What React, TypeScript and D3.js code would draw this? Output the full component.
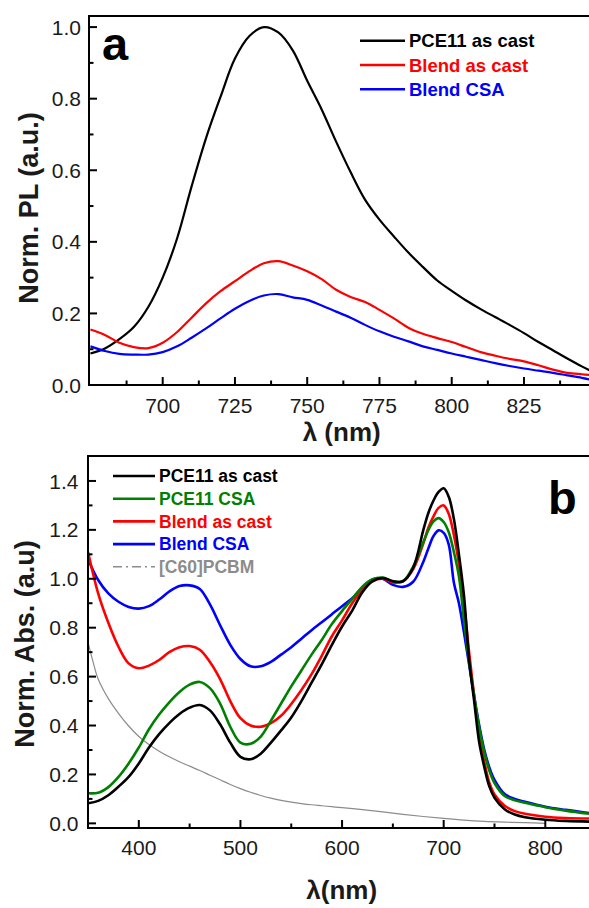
import React, { useMemo } from "react";
import * as d3 from "d3";

const WIDTH = 589;
const HEIGHT = 908;
const FONT = "'Liberation Sans', Arial, sans-serif";

// ---- panel a : normalised PL ----
const plWavelength = [
  675, 680, 685, 690, 695, 700, 705, 710, 715, 720, 725, 730, 735, 740, 745, 750, 755, 760,
  765, 770, 775, 780, 785, 790, 795, 800, 805, 810, 815, 820, 825, 830, 835, 840, 845, 848,
];
const plPce11AsCast = [
  0.088, 0.102, 0.128, 0.162, 0.218, 0.3, 0.41, 0.555, 0.69, 0.805, 0.912, 0.975, 1.0, 0.985,
  0.935, 0.85, 0.77, 0.68, 0.595, 0.518, 0.462, 0.415, 0.37, 0.33, 0.292, 0.263, 0.236, 0.212,
  0.19, 0.168, 0.145, 0.12, 0.097, 0.074, 0.052, 0.04,
];
const plBlendAsCast = [
  0.155, 0.14, 0.118, 0.106, 0.103, 0.118, 0.148, 0.188, 0.228, 0.262, 0.29, 0.318, 0.34,
  0.346, 0.334, 0.318, 0.296, 0.266, 0.246, 0.232, 0.21, 0.186, 0.16, 0.143, 0.131, 0.12,
  0.106, 0.092, 0.082, 0.073, 0.066, 0.055, 0.043, 0.034, 0.03, 0.028,
];
const plBlendCsa = [
  0.108, 0.095, 0.087, 0.085, 0.085, 0.092, 0.108, 0.132, 0.158, 0.186, 0.213, 0.235, 0.25,
  0.254, 0.245, 0.238, 0.222, 0.205, 0.188, 0.168, 0.15, 0.135, 0.122, 0.108, 0.098, 0.088,
  0.079, 0.07, 0.061, 0.053, 0.046, 0.04, 0.034, 0.027, 0.02, 0.015,
];
const plXTicks = [700, 725, 750, 775, 800, 825];
const plXMinor = [687.5, 712.5, 737.5, 762.5, 787.5, 812.5, 837.5];
const plYTicks = [0, 0.2, 0.4, 0.6, 0.8, 1.0];
const plYMinor = [0.1, 0.3, 0.5, 0.7, 0.9];

// ---- panel b : normalised absorption ----
const absWavelength = [
  350, 360, 370, 380, 390, 400, 410, 420, 430, 440, 450, 460, 470, 480, 490, 500, 510, 520,
  530, 540, 550, 560, 570, 580, 590, 600, 610, 620, 630, 640, 650, 660, 670, 680, 685, 690,
  695, 700, 705, 710, 715, 720, 725, 730, 735, 740, 745, 750, 760, 770, 780, 800, 820, 843,
];
const absPce11AsCast = [
  0.082, 0.092, 0.115, 0.15, 0.19, 0.245, 0.31, 0.365, 0.41, 0.447, 0.473, 0.484, 0.462,
  0.405, 0.33, 0.272, 0.262, 0.285, 0.33, 0.38, 0.433, 0.5, 0.575, 0.65, 0.73, 0.805, 0.87,
  0.945, 0.99, 1.003, 0.99, 0.99, 1.045, 1.2, 1.27, 1.32, 1.355, 1.37, 1.335, 1.245, 1.1,
  0.93, 0.67, 0.5, 0.33, 0.23, 0.15, 0.105, 0.058, 0.036, 0.025, 0.015, 0.01, 0.007,
];
const absPce11Csa = [
  0.123, 0.125, 0.148, 0.19, 0.245, 0.31, 0.385, 0.445, 0.495, 0.537, 0.567, 0.578, 0.553,
  0.49, 0.395, 0.33, 0.325, 0.355, 0.42, 0.49, 0.56, 0.625, 0.69, 0.75, 0.815, 0.868, 0.918,
  0.968, 0.998, 1.005, 0.99, 0.99, 1.05, 1.15, 1.2, 1.235, 1.248, 1.232, 1.19, 1.11, 1.01,
  0.83, 0.66, 0.52, 0.39, 0.29, 0.215, 0.165, 0.112, 0.094, 0.084, 0.066, 0.052, 0.039,
];
const absBlendAsCast = [
  1.11, 0.94, 0.82, 0.722, 0.654, 0.634, 0.645, 0.668, 0.7, 0.72, 0.725, 0.71, 0.66, 0.59,
  0.5, 0.43, 0.4, 0.395, 0.41, 0.44, 0.488, 0.545, 0.61, 0.685, 0.765, 0.83, 0.9, 0.955,
  0.99, 1.0, 0.985, 0.99, 1.04, 1.145, 1.21, 1.255, 1.29, 1.3, 1.265, 1.18, 1.06, 0.9, 0.7,
  0.52, 0.36, 0.25, 0.165, 0.118, 0.072, 0.05, 0.039, 0.027, 0.022, 0.02,
];
const absBlendCsa = [
  1.08, 0.995, 0.94, 0.906, 0.885, 0.878, 0.888, 0.915, 0.948, 0.97, 0.973, 0.958, 0.895,
  0.81, 0.73, 0.672, 0.642, 0.642, 0.66, 0.69, 0.72, 0.755, 0.79, 0.822, 0.855, 0.888, 0.92,
  0.962, 0.997, 1.0, 0.975, 0.967, 0.988, 1.07, 1.125, 1.175, 1.198, 1.188, 1.14, 0.985, 0.9,
  0.78, 0.65, 0.52, 0.4, 0.3, 0.228, 0.178, 0.12, 0.1, 0.088, 0.068, 0.055, 0.042,
];
const pcbmWavelength = [
  350, 355, 360, 370, 380, 390, 400, 410, 420, 430, 440, 450, 460, 470, 480, 490, 500, 510,
  520, 530, 540, 550, 560, 570, 580, 590, 600, 620, 640, 660, 680, 700, 720, 740, 760, 780, 800,
];
const pcbmAbs = [
  0.74, 0.66, 0.59, 0.51, 0.45, 0.398, 0.355, 0.322, 0.295, 0.272, 0.252, 0.234, 0.216, 0.197,
  0.178, 0.159, 0.142, 0.127, 0.114, 0.103, 0.094, 0.087, 0.081, 0.076, 0.072, 0.068, 0.064,
  0.056, 0.047, 0.037, 0.028, 0.02, 0.013, 0.008, 0.005, 0.003, 0,
];
const absXTicks = [400, 500, 600, 700, 800];
const absXMinor = [450, 550, 650, 750];
const absYTicks = [0, 0.2, 0.4, 0.6, 0.8, 1.0, 1.2, 1.4];
const absYMinor = [0.1, 0.3, 0.5, 0.7, 0.9, 1.1, 1.3];

const GRAY = "#8c8c8c";

const Panel = ({ id, box, xDomain, yDomain, series, legend, xTicks, xMinor, yTicks, yMinor, yLabelGap, xLabelDy, xTitle, xTitleY, yTitle, yTitleX, yTitleY, letter, legendBox }) => {
  const xScale = useMemo(
    () => d3.scaleLinear().domain(xDomain).range([box.left, WIDTH]),
    [xDomain, box]
  );
  const yScale = useMemo(
    () => d3.scaleLinear().domain(yDomain).range([box.bottom, box.top]),
    [yDomain, box]
  );
  const fmt = d3.format(".1f");

  return (
    <g>
      <defs>
        <clipPath id={id}>
          <rect x={box.left} y={box.top} width={WIDTH - box.left} height={box.bottom - box.top} />
        </clipPath>
      </defs>
      <g clipPath={`url(#${id})`}>
        {series.map((s) => {
          const line = d3
            .line<number>()
            .x((_, i) => xScale(s.x[i]))
            .y((d) => yScale(d))
            .curve(d3.curveCatmullRom.alpha(0.5));
          return (
            <path key={s.name} d={line(s.y) || ""} fill="none" stroke={s.color} strokeWidth={s.width} strokeLinejoin="round" />
          );
        })}
      </g>
      {/* frame (right side falls outside the picture) */}
      <rect x={box.left} y={box.top} width={WIDTH + 10 - box.left} height={box.bottom - box.top} fill="none" stroke="#000" strokeWidth={2} />
      {yTicks.map((t) => (
        <g key={"y" + t}>
          <line x1={box.left} x2={box.left + 8} y1={yScale(t)} y2={yScale(t)} stroke="#000" strokeWidth={2} />
          <text x={box.left - yLabelGap} y={yScale(t)} dy="0.36em" textAnchor="end" fontSize={21} fill="#1a1a1a">
            {fmt(t)}
          </text>
        </g>
      ))}
      {yMinor.map((t) => (
        <line key={"ym" + t} x1={box.left} x2={box.left + 4.5} y1={yScale(t)} y2={yScale(t)} stroke="#000" strokeWidth={2} />
      ))}
      {xTicks.map((t) => (
        <g key={"x" + t}>
          <line x1={xScale(t)} x2={xScale(t)} y1={box.bottom} y2={box.bottom - 8} stroke="#000" strokeWidth={2} />
          <text x={xScale(t)} y={box.bottom + xLabelDy} textAnchor="middle" fontSize={21} fill="#1a1a1a">
            {t}
          </text>
        </g>
      ))}
      {xMinor.map((t) => (
        <line key={"xm" + t} x1={xScale(t)} x2={xScale(t)} y1={box.bottom} y2={box.bottom - 4.5} stroke="#000" strokeWidth={2} />
      ))}
      <text x={341.7} y={xTitleY} textAnchor="middle" fontSize={26} fontWeight="bold" fill="#1a1a1a">
        {xTitle}
      </text>
      <text transform={`translate(${yTitleX},${yTitleY}) rotate(-90)`} textAnchor="middle" fontSize={27} fontWeight="bold" fill="#1a1a1a">
        {yTitle}
      </text>
      <text x={letter.x} y={letter.y} fontSize={47} fontWeight="bold" fill="#000">
        {letter.text}
      </text>
      {legend.map((s, i) => {
        const cy = legendBox.y + i * legendBox.step;
        return (
          <g key={"l" + s.name}>
            <line x1={legendBox.x1} x2={legendBox.x2} y1={cy} y2={cy} stroke={s.color} strokeWidth={s.dash ? 1.5 : 2.6} strokeDasharray={s.dash} />
            <text x={legendBox.x2 + 4} y={cy} dy="0.36em" fontSize={legendBox.fontSize} fontWeight="bold" fill={s.color}>
              {s.name}
            </text>
          </g>
        );
      })}
    </g>
  );
};

const App = () => {
  const plSeries = [
    { name: "PCE11 as cast", color: "#000000", x: plWavelength, y: plPce11AsCast, width: 2.2 },
    { name: "Blend as cast", color: "#ff0000", x: plWavelength, y: plBlendAsCast, width: 2.2 },
    { name: "Blend CSA", color: "#0000ff", x: plWavelength, y: plBlendCsa, width: 2.2 },
  ];
  const absSeries = [
    { name: "[C60]PCBM", color: GRAY, x: pcbmWavelength, y: pcbmAbs, width: 1.2, dash: "9,4,2,4" },
    { name: "Blend CSA", color: "#0000ff", x: absWavelength, y: absBlendCsa, width: 2.6 },
    { name: "Blend as cast", color: "#ff0000", x: absWavelength, y: absBlendAsCast, width: 2.6 },
    { name: "PCE11 CSA", color: "#008000", x: absWavelength, y: absPce11Csa, width: 2.6 },
    { name: "PCE11 as cast", color: "#000000", x: absWavelength, y: absPce11AsCast, width: 2.6 },
  ];
  const absLegend = [absSeries[4], absSeries[3], absSeries[2], absSeries[1], absSeries[0]];

  return (
    <div style={{ position: "absolute", left: 0, top: 0 }}>
      <svg width={WIDTH} height={HEIGHT} style={{ display: "block", fontFamily: FONT }}>
        <rect width={WIDTH} height={HEIGHT} fill="#fff" />
        <Panel
          id="clipA"
          box={{ left: 89, top: 16, bottom: 385 }}
          xDomain={[674.5, 847.5]}
          yDomain={[0, 1.031]}
          series={plSeries}
          legend={plSeries}
          xTicks={plXTicks}
          xMinor={plXMinor}
          yTicks={plYTicks}
          yMinor={plYMinor}
          yLabelGap={8}
          xLabelDy={28}
          xTitle="λ (nm)"
          xTitleY={441}
          yTitle="Norm. PL (a.u.)"
          yTitleX={38}
          yTitleY={208}
          letter={{ text: "a", x: 102, y: 60 }}
          legendBox={{ x1: 360, x2: 405, y: 40.7, step: 24.3, fontSize: 18.5 }}
        />
        <Panel
          id="clipB"
          box={{ left: 88, top: 456, bottom: 828 }}
          xDomain={[350, 843]}
          yDomain={[-0.019, 1.502]}
          series={absSeries}
          legend={absLegend}
          xTicks={absXTicks}
          xMinor={absXMinor}
          yTicks={absYTicks}
          yMinor={absYMinor}
          yLabelGap={9.5}
          xLabelDy={27}
          xTitle="λ(nm)"
          xTitleY={899}
          yTitle="Norm. Abs. (a.u)"
          yTitleX={34}
          yTitleY={644}
          letter={{ text: "b", x: 548, y: 514 }}
          legendBox={{ x1: 113, x2: 155, y: 476, step: 22.7, fontSize: 17.5 }}
        />
      </svg>
    </div>
  );
};

export default App;
